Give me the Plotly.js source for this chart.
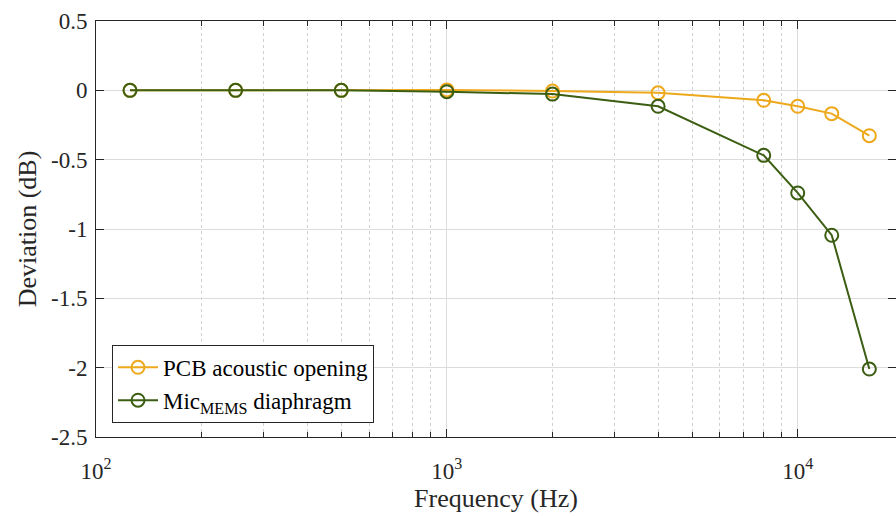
<!DOCTYPE html>
<html>
<head>
<meta charset="utf-8">
<script src="https://cdn.plot.ly/plotly-3.0.1.min.js"></script>
<style>html,body{margin:0;padding:0;background:#fff;}#chart{width:896px;height:516px;}</style>
</head>
<body>
<div id="chart"></div>
<script>
const freq = [125, 250, 500, 1000, 2000, 4000, 8000, 10000, 12500, 16000];
const pcbOpening = [0, 0, 0, 0.003, -0.005, -0.018, -0.072, -0.115, -0.168, -0.327];
const micDiaphragm = [0, 0, 0, -0.01, -0.027, -0.115, -0.469, -0.74, -1.045, -2.01];
const seriesNames = ['PCB acoustic opening', 'Mic<sub>MEMS</sub> diaphragm'];
const xTickVals = [100, 1000, 10000];
const xTickText = ['10<sup>2</sup>', '10<sup>3</sup>', '10<sup>4</sup>'];
const xMinorVals = [200,300,400,500,600,700,800,900,2000,3000,4000,5000,6000,7000,8000,9000,20000];
const yTickVals = [0.5, 0, -0.5, -1, -1.5, -2, -2.5];
const yTickText = ['0.5', '0', '-0.5', '-1', '-1.5', '-2', '-2.5'];

const orange = '#EDA81C';
const green = '#3B5E12';
const font = 'Liberation Serif, Times New Roman, serif';

const traces = [
  {x: freq, y: pcbOpening, name: seriesNames[0], mode: 'lines+markers', type: 'scatter',
   line: {color: orange, width: 2},
   marker: {symbol: 'circle-open', size: 13, color: orange, line: {width: 2, color: orange}}},
  {x: freq, y: micDiaphragm, name: seriesNames[1], mode: 'lines+markers', type: 'scatter',
   line: {color: green, width: 2},
   marker: {symbol: 'circle-open', size: 13, color: green, line: {width: 2, color: green}}}
];

const layout = {
  width: 896, height: 516,
  margin: {l: 96, r: 0, t: 21, b: 79, pad: 0},
  paper_bgcolor: '#fff', plot_bgcolor: '#fff',
  font: {family: font, size: 23, color: '#262626'},
  showlegend: true,
  legend: {x: 0.02, y: 0.034, xanchor: 'left', yanchor: 'bottom',
           bgcolor: '#fff', bordercolor: '#262626', borderwidth: 1,
           font: {family: font, size: 23, color: '#000'}, tracegroupgap: 0, itemwidth: 40},
  xaxis: {
    type: 'log', range: [2, 4.2801],
    tickmode: 'array', tickvals: xTickVals, ticktext: xTickText,
    ticks: 'inside', ticklen: 8, tickcolor: '#262626', tickwidth: 1,
    showline: true, linecolor: '#262626', linewidth: 1, mirror: 'ticks',
    showgrid: true, gridcolor: '#dcdcdc', gridwidth: 1,
    zeroline: false, ticklabelstandoff: 13,
    tickfont: {family: font, size: 23, color: '#262626'},
    minor: {tickmode: 'array', tickvals: xMinorVals, ticks: 'inside', ticklen: 5,
            tickcolor: '#262626', showgrid: true, gridcolor: '#cfcfcf', griddash: 'dot', gridwidth: 1},
    title: {text: 'Frequency (Hz)', font: {family: font, size: 26, color: '#262626'}, standoff: 2}
  },
  yaxis: {
    range: [-2.5, 0.5],
    tickmode: 'array', tickvals: yTickVals, ticktext: yTickText,
    ticks: 'inside', ticklen: 8, tickcolor: '#262626', tickwidth: 1,
    showline: true, linecolor: '#262626', linewidth: 1, mirror: 'ticks',
    showgrid: true, gridcolor: '#dcdcdc', gridwidth: 1,
    zeroline: false, ticklabelstandoff: 3,
    tickfont: {family: font, size: 23, color: '#262626'},
    title: {text: 'Deviation (dB)', font: {family: font, size: 26, color: '#262626'}, standoff: 6}
  }
};

Plotly.newPlot('chart', traces, layout, {displayModeBar: false, staticPlot: true});
</script>
</body>
</html>
